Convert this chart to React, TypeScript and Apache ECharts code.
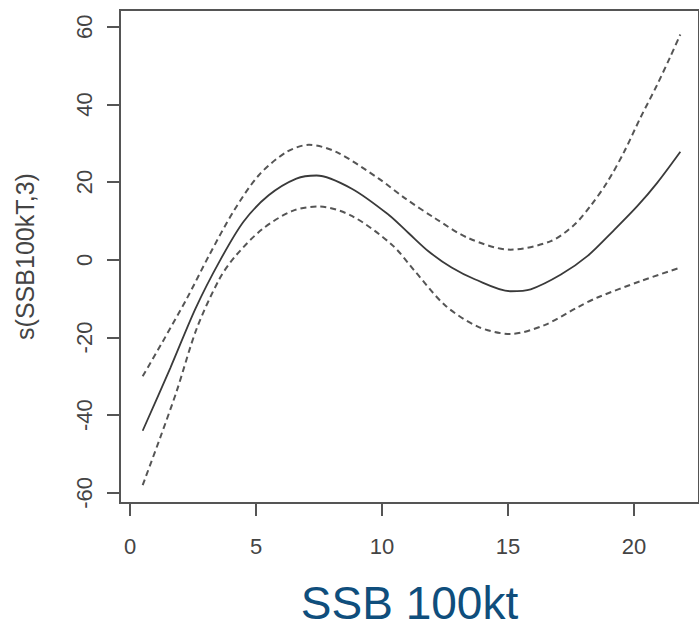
import React, { useEffect, useRef } from "react";
import * as echarts from "echarts";

const xTicks = [0, 5, 10, 15, 20];
const yTicks = [-60, -40, -20, 0, 20, 40, 60];

const fitX = [0.5, 1.6, 2.6, 3.55, 4.5, 5.5, 6.6, 7.4, 8.8, 10.26, 11.05, 11.84, 12.76, 13.68, 15.1, 15.9, 17.1, 18.16, 19.2, 20.13, 20.92, 21.84];
const fitY = [-44, -27.8, -12.5, -0.4, 9.8, 16.6, 20.9, 21.7, 18.3, 11.6, 6.9, 2.2, -2.0, -5.0, -8.1, -7.6, -3.8, 1.0, 7.6, 13.8, 19.8, 27.8];

const upperX = [0.5, 1.3, 2.25, 3.15, 4.1, 5.1, 6.2, 7.1, 8.2, 9.87, 10.92, 12.1, 13.42, 15.1, 16.7, 17.63, 18.29, 18.95, 19.61, 20.25, 20.9, 21.45, 21.84];
const upperY = [-30, -21, -10, 1.3, 12.4, 21.7, 27.7, 29.6, 27.7, 20.9, 15.8, 10.7, 5.6, 2.6, 4.8, 9.0, 14.0, 20.1, 27.8, 36.5, 44.8, 52.4, 58];

const lowerX = [0.5, 1.2, 1.85, 2.65, 3.55, 4.2, 5.25, 6.45, 7.5, 8.8, 10.39, 11.3, 12.5, 13.8, 15.1, 16.45, 17.8, 18.55, 20.3, 21.84];
const lowerY = [-58, -45.7, -33.8, -17.6, -4.9, 1.1, 7.9, 12.6, 13.7, 11.3, 3.9, -2.9, -11.7, -17.2, -19.1, -16.8, -12.1, -9.7, -5.4, -2.0];

const xTitle = "SSB 100kt";
const yTitle = "s(SSB100kT,3)";

const pairs = (xs: number[], ys: number[]) => xs.map((x, i) => [x, ys[i]]);

const FONT = "'Liberation Sans', Arial, sans-serif";
const AXIS = "#555555";

export default function App() {
  const ref = useRef<HTMLDivElement>(null);
  useEffect(() => {
    document.body.style.margin = "0";
    const chart = echarts.init(ref.current!, null, { renderer: "svg" });
    chart.setOption({
      animation: false,
      backgroundColor: "#ffffff",
      grid: {
        left: 120,
        right: -3,
        top: 10,
        bottom: 124,
        show: true,
        borderColor: AXIS,
        borderWidth: 2,
      },
      xAxis: {
        type: "value",
        min: -0.4,
        max: 22.58,
        splitLine: { show: false },
        axisLine: { show: true, onZero: false, lineStyle: { color: AXIS, width: 2 } },
        axisTick: { show: true, length: 13, customValues: xTicks, lineStyle: { color: AXIS, width: 2 } },
        axisLabel: { customValues: xTicks, fontSize: 22, color: "#444", margin: 32, fontFamily: FONT },
        name: xTitle,
        nameLocation: "middle",
        nameGap: 77,
        nameTextStyle: { fontSize: 46, color: "#0f4e7c", fontFamily: FONT },
      },
      yAxis: {
        type: "value",
        min: -62.6,
        max: 64.3,
        splitLine: { show: false },
        axisLine: { show: true, onZero: false, lineStyle: { color: AXIS, width: 2 } },
        axisTick: { show: true, length: 13, customValues: yTicks, lineStyle: { color: AXIS, width: 2 } },
        axisLabel: { customValues: yTicks, fontSize: 22, color: "#444", margin: 25, rotate: 90, fontFamily: FONT },
        name: yTitle,
        nameLocation: "middle",
        nameRotate: 90,
        nameGap: 83,
        nameTextStyle: { fontSize: 25, color: "#444", fontFamily: FONT },
      },
      series: [
        {
          type: "line",
          data: pairs(upperX, upperY),
          smooth: 0.3,
          showSymbol: false,
          lineStyle: { color: "#555", width: 2, type: [6, 4] },
        },
        {
          type: "line",
          data: pairs(fitX, fitY),
          smooth: 0.3,
          showSymbol: false,
          lineStyle: { color: "#3a3a3a", width: 1.8 },
        },
        {
          type: "line",
          data: pairs(lowerX, lowerY),
          smooth: 0.3,
          showSymbol: false,
          lineStyle: { color: "#555", width: 2, type: [6, 4] },
        },
      ],
    });
    return () => chart.dispose();
  }, []);
  return <div ref={ref} style={{ width: 699, height: 631 }} />;
}
